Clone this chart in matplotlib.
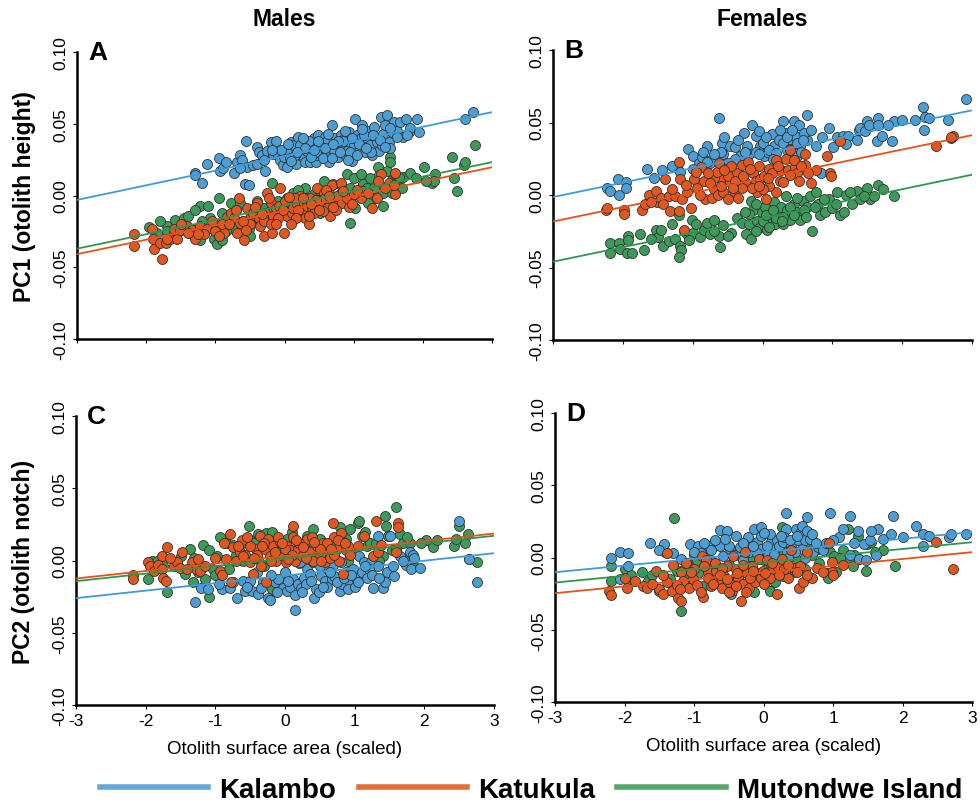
import matplotlib
matplotlib.use("Agg")
import matplotlib.pyplot as plt
from matplotlib.lines import Line2D

plt.rcParams['font.family'] = ['Liberation Sans', 'DejaVu Sans']

groups = ['Kalambo', 'Katukula', 'Mutondwe Island']
point_colors = ['#4c9fd5', '#e2561f', '#3d9a5a']
line_colors = ['#3f9bd8', '#e4521b', '#2f9650']
legend_colors = ['#64a9d6', '#e36f37', '#55a66c']

# ---- panel A : males, PC1 ----
a_kal_x = [-1.29, -1.30, -1.19, -1.12, -0.95, -0.93, -0.89, -0.73, -0.68, -0.64, -0.61, -0.56, -0.57, -0.52, -0.54,
           -0.45, -0.40, -0.40, -0.37, -0.33, -0.28, -0.25, -0.20, -0.16, -0.13, -0.10, -0.06, -0.02, -0.01, 0.03,
           0.06, 0.08, 0.09, 0.13, 0.16, 0.20, 0.23, 0.25, 0.29, 0.33, 0.37, 0.40, 0.42, 0.45, 0.47, 0.49, 0.52,
           0.54, 0.57, 0.59, 0.61, 0.64, 0.66, 0.69, 0.71, 0.73, 0.76, 0.78, 0.81, 0.83, 0.86, 0.88, 0.90, 0.93,
           0.95, 0.98, 1.00, 1.02, 1.05, 1.07, 1.10, 1.12, 1.14, 1.17, 1.19, 1.22, 1.24, 1.27, 1.29, 1.34, 1.36,
           1.39, 1.41, 1.43, 1.46, 1.48, 1.51, 1.53, 1.55, 1.58, 1.63, 1.67, 1.72, 1.75, 1.80, 1.82, 1.92, 1.94,
           2.61, 2.73, 0.35, 0.45, 0.55, 0.62, 0.72, 0.85, 0.95, 1.05, 0.15, -0.05, 0.30, 0.50, 0.68, 0.78, 1.15,
           1.25, 1.77, 0.05, 0.18, 0.27, 0.38, 0.48, 0.58, 0.63, 0.70, 0.80, 0.87, 0.97, 1.08, 1.18, 1.28, 1.38,
           1.45, 1.52, 1.62, -0.30, -0.18, -0.65, -0.85, 0.10, 0.42, 0.92, 1.12]
a_kal_y = [0.016, 0.014, 0.009, 0.022, 0.026, 0.017, 0.019, 0.016, 0.023, 0.028, 0.025, 0.038, 0.008, 0.007, 0.020,
           0.021, 0.022, 0.034, 0.030, 0.028, 0.017, 0.031, 0.037, 0.029, 0.038, 0.028, 0.025, 0.021, 0.027, 0.020,
           0.031, 0.026, 0.037, 0.035, 0.022, 0.041, 0.035, 0.028, 0.023, 0.031, 0.023, 0.034, 0.040, 0.023, 0.028,
           0.042, 0.033, 0.037, 0.028, 0.041, 0.031, 0.023, 0.035, 0.049, 0.028, 0.040, 0.034, 0.027, 0.042, 0.035,
           0.029, 0.041, 0.031, 0.044, 0.037, 0.024, 0.035, 0.053, 0.042, 0.031, 0.040, 0.049, 0.035, 0.030, 0.040,
           0.045, 0.035, 0.028, 0.048, 0.037, 0.031, 0.055, 0.035, 0.043, 0.049, 0.056, 0.037, 0.033, 0.044, 0.051,
           0.045, 0.051, 0.041, 0.053, 0.044, 0.047, 0.053, 0.044, 0.053, 0.058, 0.038, 0.030, 0.026, 0.038, 0.032,
           0.038, 0.030, 0.028, 0.028, 0.032, 0.033, 0.036, 0.026, 0.038, 0.042, 0.030, 0.042, 0.036, 0.030, 0.040,
           0.027, 0.038, 0.033, 0.043, 0.036, 0.030, 0.045, 0.040, 0.036, 0.033, 0.042, 0.039, 0.034, 0.047, 0.041,
           0.025, 0.032, 0.019, 0.023, 0.024, 0.032, 0.025, 0.046]

a_kat_x = [-2.18, -2.17, -1.92, -1.90, -1.89, -1.77, -1.80, -1.72, -1.65, -1.60, -1.55, -1.51, -1.41, -1.34, -1.22,
           -1.12, -1.17, -0.93, -0.88, -0.83, -0.78, -0.73, -0.69, -0.66, -0.64, -0.59, -0.54, -0.49, -0.45, -0.40,
           -0.37, -0.35, -0.30, -0.28, -0.25, -0.20, -0.18, -0.16, -0.13, -0.08, -0.06, -0.04, -0.01, 0.01, 0.04,
           0.08, 0.11, 0.13, 0.18, 0.23, 0.25, 0.28, 0.30, 0.33, 0.35, 0.37, 0.40, 0.42, 0.47, 0.49, 0.52, 0.57,
           0.59, 0.61, 0.66, 0.69, 0.71, 0.73, 0.76, 0.81, 0.83, 0.93, 1.10, 1.14, 1.27, 1.39, 1.34, 1.51, 1.60,
           1.60, 1.58, -0.50, -0.30, -0.10, 0.00, 0.20, 0.45, 0.60, 0.75, 0.90, 1.00, -0.20, 0.15, 0.35, 0.55,
           -0.60, -0.90, -1.00, -1.30, -1.40, -1.70, 1.20, 1.45, -1.05, -0.95, -0.80, -0.70, -0.55, -0.42, -0.33,
           -0.22, -0.12, -0.02, 0.06, 0.16, 0.27, 0.38, 0.50, 0.65, 0.70, 0.85, 0.97, 1.05, -1.50, -1.25, 1.35, 0.10]
a_kat_y = [-0.027, -0.035, -0.023, -0.030, -0.037, -0.044, -0.033, -0.033, -0.030, -0.023, -0.030, -0.024, -0.021,
           -0.024, -0.021, -0.023, -0.027, -0.019, -0.026, -0.015, -0.012, -0.016, -0.026, -0.002, -0.019, -0.031,
           -0.009, -0.014, -0.012, -0.005, -0.016, -0.021, -0.028, -0.012, 0.002, -0.005, -0.026, -0.014, -0.009,
           -0.007, 0.005, -0.012, -0.026, -0.008, -0.014, -0.005, -0.012, -0.009, -0.006, 0.000, -0.012, -0.005,
           -0.016, -0.007, -0.020, -0.002, -0.009, -0.012, 0.005, -0.005, -0.007, 0.002, -0.002, -0.009, -0.014,
           0.007, -0.002, -0.007, 0.000, 0.009, -0.005, -0.008, -0.002, 0.003, -0.009, 0.015, -0.002, 0.009, 0.016,
           0.001, 0.007, -0.020, -0.018, -0.016, -0.004, -0.010, -0.003, 0.004, -0.010, -0.002, 0.001, -0.020,
           -0.002, -0.014, -0.011, -0.018, -0.020, -0.025, -0.030, -0.026, -0.030, 0.002, 0.005, -0.018, -0.028,
           -0.020, -0.010, -0.024, -0.008, -0.013, -0.002, -0.020, -0.010, -0.001, -0.016, -0.002, -0.006, -0.010,
           0.000, -0.008, 0.003, -0.006, 0.004, -0.020, -0.027, 0.010, -0.020]

a_mut_x = [-1.96, -1.84, -1.70, -1.58, -1.46, -1.39, -1.36, -1.27, -1.22, -1.22, -1.10, -1.07, -1.02, -0.98, -0.95,
           -0.90, -0.78, -0.73, -0.64, -0.52, -0.49, -0.40, -0.30, -0.18, -0.06, 0.04, 0.13, 0.23, 0.33, 0.42, 0.52,
           0.57, 0.64, 0.71, 0.81, 0.90, 0.95, 1.00, 1.02, 1.05, 1.14, 1.19, 1.24, 1.29, 1.36, 1.43, 1.43, 1.48,
           1.53, 1.53, 1.55, 1.63, 1.70, 1.72, 1.82, 2.01, 2.13, 2.18, 2.16, 2.42, 2.45, 2.49, 2.59, 2.61, 2.76,
           -0.60, -0.20, 0.10, 0.30, 0.60, 0.80, -0.90, -1.20, -0.40, 0.00, 1.30, 1.60, 0.50, -1.50, -1.70, -1.00,
           -1.80, -1.60, -1.30, -1.15, -0.85, -0.70, -0.50, -0.35, -0.10, 0.20, 0.45, 0.70, 0.95, 1.10, 1.20, 1.35,
           1.55, 1.65, 1.90, 2.05]
a_mut_y = [-0.022, -0.026, -0.021, -0.017, -0.016, -0.014, -0.026, -0.023, -0.031, -0.007, -0.007, -0.016, -0.030,
           -0.034, -0.002, -0.031, -0.005, -0.023, -0.005, -0.023, -0.012, -0.016, -0.009, 0.009, -0.007, -0.002,
           0.002, -0.008, -0.002, 0.001, -0.012, 0.010, 0.002, -0.002, 0.007, 0.015, -0.019, 0.012, -0.009, 0.001,
           0.008, 0.005, 0.012, -0.002, 0.014, -0.007, 0.002, 0.017, 0.027, 0.023, 0.011, 0.007, 0.005, 0.013, 0.016,
           0.020, 0.009, 0.015, 0.010, 0.027, 0.012, 0.003, 0.021, 0.023, 0.035, -0.018, -0.010, -0.012, 0.005,
           -0.006, 0.001, -0.012, -0.018, -0.004, -0.013, 0.005, 0.015, 0.004, -0.024, -0.025, -0.022, -0.018,
           -0.027, -0.010, -0.025, -0.025, -0.010, -0.028, -0.020, -0.004, 0.004, -0.006, 0.008, 0.005, 0.015,
           -0.005, 0.020, 0.002, 0.013, 0.012, 0.010]

# ---- panel B : females, PC1 ----
b_kal_x = [-2.22, -2.19, -2.07, -2.06, -1.95, -1.95, -1.65, -1.44, -1.22, -1.18, -1.07, -0.99, -0.91, -0.87, -0.80,
           -0.75, -0.72, -0.63, -0.58, -0.56, -0.46, -0.39, -0.32, -0.27, -0.22, -0.15, -0.10, -0.05, -0.03, 0.02,
           0.06, 0.14, 0.16, 0.23, 0.30, 0.33, 0.35, 0.40, 0.45, 0.47, 0.49, 0.52, 0.54, 0.64, 0.64, 0.76, 0.85,
           0.84, 0.95, 1.01, 1.07, 1.15, 1.23, 1.35, 1.38, 1.40, 1.47, 1.49, 1.52, 1.64, 1.65, 1.66, 1.71, 1.85,
           1.88, 2.19, 2.30, 2.31, 2.33, 2.38, 2.65, 2.70, 2.92, -0.60, -0.40, -0.20, 0.00, 0.10, 0.20, 0.30, 0.40,
           0.50, 0.60, -0.10, 0.25, 0.45, -0.80, -0.50, 0.55, -1.00, -0.85, -0.70, -0.55, -0.35, -0.25, -0.05, 0.05,
           0.15, 0.35, 0.42, 0.58, 0.70, 1.20, 1.80, 2.00, -1.55, -1.30]
b_kal_y = [0.005, 0.003, 0.011, 0.000, 0.009, 0.005, 0.018, 0.017, 0.020, 0.016, 0.032, 0.027, 0.022, 0.026, 0.034,
           0.022, 0.025, 0.053, 0.036, 0.028, 0.034, 0.033, 0.027, 0.043, 0.034, 0.048, 0.041, 0.044, 0.034, 0.027,
           0.030, 0.042, 0.034, 0.038, 0.051, 0.043, 0.031, 0.038, 0.051, 0.041, 0.027, 0.048, 0.034, 0.055, 0.038,
           0.034, 0.040, 0.015, 0.046, 0.033, 0.040, 0.041, 0.041, 0.038, 0.045, 0.046, 0.044, 0.051, 0.048, 0.037,
           0.053, 0.048, 0.041, 0.037, 0.051, 0.052, 0.061, 0.045, 0.054, 0.053, 0.052, 0.039, 0.066, 0.030, 0.025,
           0.028, 0.036, 0.031, 0.029, 0.036, 0.032, 0.036, 0.043, 0.030, 0.045, 0.024, 0.023, 0.022, 0.030, 0.018,
           0.030, 0.028, 0.040, 0.038, 0.030, 0.028, 0.040, 0.025, 0.040, 0.045, 0.038, 0.045, 0.035, 0.048, 0.052,
           0.012, 0.020]

b_kat_x = [-2.24, -2.22, -1.99, -1.98, -1.73, -1.68, -1.62, -1.53, -1.51, -1.46, -1.42, -1.39, -1.34, -1.32, -1.25,
           -1.19, -1.19, -1.18, -1.15, -1.12, -1.08, -1.02, -0.98, -0.94, -0.88, -0.84, -0.82, -0.72, -0.69, -0.64,
           -0.58, -0.56, -0.53, -0.50, -0.46, -0.41, -0.37, -0.32, -0.29, -0.25, -0.21, -0.13, -0.10, -0.08, -0.03,
           0.02, 0.05, 0.09, 0.14, 0.20, 0.19, 0.26, 0.33, 0.37, 0.40, 0.47, 0.50, 0.52, 0.61, 0.61, 0.70, 0.77,
           0.93, 0.96, 0.98, 1.11, 2.48, 2.73, 2.70, -0.70, -0.60, -0.50, -0.40, -0.30, -0.15, -0.05, 0.10, 0.25,
           -0.45, -0.35, -0.75, 0.00, 0.40, -0.65, -1.60, -1.30, -1.10, -0.90, -0.78, -0.62, -0.55, -0.42, -0.28,
           -0.18, -0.05, 0.08, 0.22, 0.30, 0.45, 0.55, 0.65, -0.95]
b_kat_y = [-0.010, -0.009, -0.010, -0.013, -0.010, -0.006, 0.000, 0.003, -0.005, -0.002, -0.006, 0.011, -0.001,
           -0.011, -0.001, 0.023, -0.011, 0.011, -0.003, -0.024, 0.002, -0.009, 0.011, 0.005, 0.019, 0.010, -0.003,
           -0.002, 0.004, 0.000, 0.011, 0.002, 0.018, -0.003, 0.009, 0.003, 0.015, 0.009, 0.021, 0.009, 0.023, 0.015,
           0.010, 0.002, 0.011, 0.013, -0.003, 0.018, 0.015, 0.024, 0.002, 0.017, 0.025, 0.017, 0.031, 0.019, 0.015,
           0.010, 0.028, 0.021, 0.008, 0.017, 0.027, 0.015, 0.013, 0.037, 0.034, 0.041, 0.040, 0.012, 0.006, 0.013,
           0.010, 0.005, 0.005, 0.020, 0.006, 0.010, 0.020, -0.002, 0.008, 0.004, 0.014, 0.016, -0.005, 0.004, 0.007,
           0.000, 0.015, 0.022, 0.017, 0.005, 0.013, 0.018, 0.006, 0.012, 0.020, 0.009, 0.024, 0.020, 0.015, 0.016]

b_mut_x = [-2.19, -2.18, -2.06, -2.04, -1.94, -1.93, -1.92, -1.87, -1.75, -1.70, -1.52, -1.50, -1.42, -1.34, -1.30,
           -1.25, -1.20, -1.18, -1.17, -1.19, -1.13, -1.08, -1.01, -0.99, -0.90, -0.84, -0.80, -0.75, -0.69, -0.63,
           -0.61, -0.56, -0.45, -0.37, -0.29, -0.23, -0.20, -0.16, -0.16, -0.13, -0.08, -0.05, -0.01, 0.04, 0.06,
           0.11, 0.16, 0.18, 0.23, 0.26, 0.30, 0.33, 0.35, 0.40, 0.45, 0.49, 0.54, 0.58, 0.64, 0.68, 0.71, 0.76,
           0.83, 0.90, 0.95, 1.00, 1.07, 1.11, 1.16, 1.19, 1.28, 1.35, 1.40, 1.49, 1.54, 1.59, 1.65, 1.73, 1.89,
           0.00, 0.20, 0.40, 0.60, -0.10, 0.30, 0.50, 0.10, -0.20, 0.80, -1.60, -1.45, -1.05, -0.95, -0.70, -0.50,
           -0.25, -0.10, 0.05, 0.15, 0.28, 0.45, 0.62, 0.75, 0.88, 1.05, 1.25, 1.45]
b_mut_y = [-0.033, -0.040, -0.033, -0.037, -0.040, -0.028, -0.031, -0.040, -0.027, -0.038, -0.024, -0.029, -0.035,
           -0.032, -0.020, -0.030, -0.014, -0.035, -0.038, -0.043, -0.025, -0.027, -0.017, -0.026, -0.029, -0.024,
           -0.019, -0.027, -0.017, -0.028, -0.036, -0.021, -0.026, -0.016, -0.019, -0.027, -0.020, -0.030, -0.004,
           -0.010, -0.018, -0.023, -0.012, -0.008, -0.024, -0.016, -0.005, -0.020, -0.013, -0.008, -0.020, -0.001,
           -0.010, -0.017, -0.006, -0.012, -0.017, -0.004, -0.008, -0.001, -0.025, 0.002, -0.014, -0.012, -0.003,
           -0.009, 0.002, -0.014, -0.012, 0.000, -0.006, 0.003, -0.003, 0.005, -0.003, -0.001, 0.007, 0.004, -0.001,
           -0.018, -0.016, -0.008, -0.010, -0.006, -0.015, -0.002, -0.022, -0.013, -0.006, -0.030, -0.024, -0.031,
           -0.020, -0.025, -0.028, -0.012, -0.025, -0.014, -0.010, -0.018, -0.014, -0.015, -0.008, -0.003, -0.006,
           0.002, -0.001]

# ---- panel C : males, PC2 ----
c_kal_x = [-1.29, -1.20, -1.10, -0.91, -0.79, -0.69, -0.61, -0.58, -0.48, -0.39, -0.31, -0.24, -0.22, -0.15, -0.10,
           -0.03, 0.03, 0.07, 0.11, 0.14, 0.19, 0.23, 0.27, 0.31, 0.36, 0.41, 0.45, 0.49, 0.52, 0.57, 0.62, 0.67,
           0.71, 0.79, 0.82, 0.88, 0.93, 0.97, 1.02, 1.06, 1.10, 1.13, 1.17, 1.23, 1.27, 1.33, 1.34, 1.40, 1.43,
           1.46, 1.50, 1.57, 1.65, 1.73, 1.79, 1.81, 1.84, 1.94, 2.50, 2.64, 2.75, 0.21, 0.40, 0.69, -0.50, -0.20,
           0.00, 0.30, 0.60, 0.90, 1.20, 0.50, 0.80, 1.00, -0.40, 0.15, -0.75, -0.55, -0.35, -0.12, 0.05, 0.25,
           0.38, 0.55, 0.65, 0.75, 0.85, 0.95, 1.05, 1.15, 1.25, 1.35, 1.55, 1.70, 1.85, -0.95]
c_kal_y = [-0.029, -0.019, -0.020, -0.020, -0.019, -0.026, -0.014, -0.021, -0.021, -0.023, -0.015, -0.026, -0.027,
           -0.015, -0.013, -0.019, -0.021, -0.018, -0.013, -0.034, -0.016, -0.019, -0.012, -0.006, -0.009, -0.026,
           -0.020, -0.022, -0.011, -0.014, -0.006, -0.013, -0.011, -0.021, -0.016, -0.008, -0.015, -0.006, -0.012,
           0.003, -0.008, -0.001, -0.012, -0.001, -0.019, 0.017, -0.004, -0.019, -0.015, -0.008, 0.017, -0.011, 0.003,
           -0.003, 0.006, -0.006, 0.004, -0.005, 0.027, 0.001, -0.015, -0.001, -0.001, -0.003, -0.014, -0.010,
           -0.008, -0.016, -0.018, -0.020, -0.006, -0.004, -0.001, -0.018, -0.008, -0.024, -0.015, -0.018, -0.019,
           -0.022, -0.014, -0.022, -0.014, -0.018, -0.008, -0.015, -0.012, -0.010, -0.015, -0.004, -0.010, -0.012,
           -0.004, 0.000, 0.002, -0.016]

c_kat_x = [-2.18, -2.18, -1.96, -1.94, -1.88, -1.83, -1.77, -1.77, -1.75, -1.70, -1.71, -1.60, -1.55, -1.51, -1.48,
           -1.34, -1.28, -1.25, -1.22, -0.94, -0.88, -0.84, -0.79, -0.78, -0.74, -0.70, -0.65, -0.62, -0.58, -0.50,
           -0.46, -0.42, -0.39, -0.36, -0.34, -0.29, -0.27, -0.24, -0.21, -0.17, -0.13, -0.10, -0.07, -0.03, 0.01,
           0.03, 0.07, 0.11, 0.12, 0.14, 0.19, 0.24, 0.28, 0.32, 0.36, 0.39, 0.43, 0.46, 0.50, 0.54, 0.57, 0.62,
           0.64, 0.69, 0.71, 0.74, 0.78, 0.81, 0.83, 0.88, 0.93, 1.13, 1.26, 1.30, 1.33, 1.38, 1.59, 1.62, 1.62,
           -0.40, -0.20, 0.00, 0.20, 0.40, 0.60, -0.50, -0.30, -0.10, 0.10, 0.30, 0.50, -0.60, 0.70, 0.90, -1.65,
           -1.40, -1.15, -1.00, -0.90, -0.68, -0.55, -0.45, -0.33, -0.15, -0.05, 0.05, 0.16, 0.26, 0.42, 0.52, 0.66,
           0.76, 0.86, 1.05]
c_kat_y = [-0.010, -0.013, -0.001, -0.004, -0.007, -0.003, 0.003, -0.006, -0.012, 0.009, -0.014, -0.004, -0.001,
           -0.005, 0.006, -0.001, -0.006, 0.001, -0.007, -0.007, 0.012, 0.001, 0.018, -0.015, 0.009, 0.000, 0.006,
           0.014, 0.004, -0.001, -0.009, 0.008, 0.001, 0.017, -0.004, 0.008, -0.015, 0.015, 0.003, 0.010, 0.000,
           0.006, 0.013, 0.003, -0.001, 0.010, 0.007, 0.024, 0.016, 0.000, 0.008, 0.003, 0.012, 0.015, 0.006, 0.016,
           0.002, 0.010, 0.004, 0.012, -0.001, 0.007, 0.002, 0.026, 0.016, 0.008, 0.000, 0.019, -0.009, 0.007, 0.004,
           0.017, 0.003, 0.027, 0.006, 0.011, 0.006, 0.026, 0.023, 0.004, 0.000, 0.008, 0.012, 0.000, 0.012, 0.010,
           0.012, 0.016, 0.004, 0.002, 0.008, 0.003, 0.004, 0.010, 0.002, -0.006, -0.004, 0.002, -0.010, 0.010,
           0.016, 0.002, 0.010, 0.006, 0.012, 0.001, 0.014, 0.009, 0.013, 0.000, 0.008, 0.014, 0.012, 0.010]

c_mut_x = [-1.96, -1.91, -1.84, -1.70, -1.58, -1.44, -1.37, -1.32, -1.22, -1.18, -1.15, -1.09, -1.09, -1.03, -0.98,
           -0.93, -0.84, -0.74, -0.66, -0.51, -0.50, -0.45, -0.39, -0.31, -0.27, -0.19, -0.18, -0.12, 0.03, 0.19,
           0.31, 0.45, 0.62, 0.79, 0.88, 0.93, 1.05, 1.06, 1.10, 1.17, 1.22, 1.41, 1.43, 1.45, 1.48, 1.53, 1.60,
           1.65, 1.69, 1.72, 1.79, 1.84, 2.02, 2.12, 2.18, 2.43, 2.46, 2.50, 2.59, 2.63, 2.64, 2.76, -0.60, -0.30,
           0.00, 0.20, 0.50, 0.70, 1.00, 1.30, -0.80, -1.30, 0.40, 0.90, -1.75, -1.50, -1.25, -1.00, -0.70, -0.55,
           -0.20, 0.10, 0.35, 0.55, 0.80, 1.15, 1.35, 1.60, 1.75, 1.95]
c_mut_y = [-0.013, 0.000, 0.000, -0.022, -0.004, -0.009, 0.008, -0.015, -0.003, 0.011, -0.013, 0.007, -0.025, -0.006,
           0.003, 0.016, 0.012, 0.011, 0.007, 0.024, 0.014, 0.012, 0.018, 0.016, 0.019, 0.020, -0.020, 0.010, 0.015,
           0.012, 0.017, 0.009, 0.007, 0.023, 0.015, 0.022, 0.026, 0.027, 0.017, 0.010, 0.012, 0.003, 0.031, 0.024,
           0.017, 0.007, 0.037, 0.018, 0.012, 0.001, 0.012, -0.003, 0.014, 0.009, 0.014, 0.010, 0.015, 0.024, 0.012,
           0.018, 0.001, -0.001, 0.000, -0.004, 0.004, -0.002, 0.015, 0.010, 0.005, 0.012, -0.006, 0.002, 0.022, 0.000,
           -0.004, 0.003, -0.008, -0.010, 0.004, 0.012, 0.010, 0.020, 0.008, 0.003, 0.015, 0.020, 0.000, 0.008, 0.016,
           0.012]

# ---- panel D : females, PC2 ----
d_kal_x = [-2.20, -2.06, -1.95, -1.95, -2.06, -1.63, -1.43, -1.18, -1.06, -0.94, -0.86, -0.80, -0.72, -0.63, -0.52,
           -0.63, -0.58, -0.48, -0.47, -0.41, -0.34, -0.29, -0.22, -0.21, -0.13, -0.10, -0.04, -0.04, -0.03, 0.02,
           0.07, 0.11, 0.16, 0.19, 0.23, 0.28, 0.32, 0.33, 0.34, 0.40, 0.47, 0.50, 0.52, 0.55, 0.59, 0.63, 0.67,
           0.71, 0.79, 0.86, 0.95, 1.09, 1.15, 1.24, 1.24, 1.36, 1.38, 1.44, 1.48, 1.53, 1.62, 1.65, 1.72, 1.84,
           1.87, 2.19, 2.29, 2.30, 2.38, 2.67, 2.70, 2.92, -0.90, -0.70, -0.50, -0.30, -0.10, 0.10, 0.30, 0.45,
           0.60, -0.20, 0.20, 0.55, 0.00, -0.60, 0.35, 0.75, -1.50, -1.30, -1.00, -0.75, -0.55, -0.40, -0.15, 0.05,
           0.15, 0.25, 0.38, 0.48, 0.62, 0.70, 0.90, 1.00, 1.30, 1.55, 2.00, -0.85]
d_kal_y = [0.000, 0.004, 0.003, -0.006, -0.015, 0.010, 0.009, -0.001, 0.009, 0.008, 0.002, 0.008, -0.003, 0.019,
           0.018, 0.008, 0.001, 0.006, -0.025, 0.002, 0.007, -0.002, 0.014, 0.004, 0.020, 0.011, 0.021, 0.015, 0.006,
           0.001, 0.002, 0.011, 0.006, 0.012, 0.008, 0.011, 0.031, 0.020, 0.004, 0.008, 0.020, 0.012, 0.017, 0.006,
           0.012, 0.028, 0.013, 0.004, 0.007, 0.005, 0.031, 0.014, 0.020, 0.029, 0.002, 0.018, -0.001, 0.009, -0.002,
           0.012, 0.002, 0.020, 0.013, 0.016, 0.029, 0.022, 0.016, 0.008, 0.015, 0.014, 0.016, 0.016, 0.003, 0.012,
           0.008, 0.010, 0.003, 0.016, 0.014, 0.004, 0.000, -0.006, -0.004, 0.022, 0.017, -0.008, 0.000, 0.010,
           0.005, 0.003, 0.004, 0.005, 0.013, 0.015, 0.008, 0.008, 0.002, 0.015, 0.012, 0.015, 0.018, 0.016, 0.010,
           0.012, 0.010, 0.018, 0.014, 0.010]

d_kat_x = [-2.23, -2.20, -1.99, -1.97, -1.73, -1.67, -1.54, -1.51, -1.44, -1.39, -1.39, -1.32, -1.30, -1.23, -1.18,
           -1.18, -1.16, -1.11, -1.07, -1.01, -0.96, -0.89, -0.87, -0.83, -0.80, -0.75, -0.69, -0.65, -0.60, -0.57,
           -0.53, -0.49, -0.46, -0.44, -0.40, -0.36, -0.33, -0.29, -0.27, -0.24, -0.21, -0.17, -0.12, -0.10, -0.06,
           -0.03, -0.01, 0.05, 0.13, 0.19, 0.20, 0.26, 0.35, 0.40, 0.44, 0.51, 0.53, 0.57, 0.62, 0.70, 0.77, 0.94,
           0.98, 0.98, 1.00, 1.14, 2.48, 2.73, -0.70, -0.50, -0.40, -0.60, -0.30, -0.20, -0.80, 0.10, 0.30, -1.00,
           0.00, -0.90, -1.85, -1.60, -1.45, -1.25, -1.05, -0.85, -0.72, -0.62, -0.52, -0.38, -0.25, -0.15, 0.02,
           0.12, 0.22, 0.35, 0.48, 0.62, 0.85, -1.20]
d_kat_y = [-0.023, -0.026, -0.014, -0.021, -0.020, -0.021, -0.009, -0.022, -0.025, 0.003, -0.017, -0.023, -0.005,
           -0.028, -0.010, -0.030, -0.016, -0.004, -0.021, -0.015, -0.019, 0.001, -0.027, -0.002, -0.010, -0.020,
           -0.009, -0.016, -0.021, -0.013, -0.006, -0.017, -0.023, 0.001, -0.008, -0.014, -0.030, -0.018, 0.004,
           -0.011, -0.021, -0.006, -0.017, -0.011, -0.001, -0.014, -0.009, -0.002, -0.008, -0.025, -0.006, -0.001,
           -0.014, 0.005, -0.007, -0.021, -0.006, -0.017, 0.004, -0.014, -0.007, 0.010, -0.003, -0.010, -0.012,
           -0.005, 0.011, -0.008, -0.004, -0.024, -0.020, -0.007, -0.005, -0.014, -0.014, -0.014, -0.008, -0.008,
           -0.018, -0.024, -0.016, -0.018, -0.012, -0.019, -0.010, -0.006, -0.018, -0.012, -0.015, -0.011, -0.024,
           -0.009, -0.011, -0.004, -0.012, -0.005, -0.010, -0.012, -0.010, -0.022]

d_mut_x = [-2.20, -2.20, -1.99, -1.87, -1.75, -1.66, -1.51, -1.42, -1.29, -1.25, -1.18, -1.07, -1.00, -0.94, -0.87,
           -0.75, -0.68, -0.58, -0.39, -0.24, -0.14, -0.01, 0.09, 0.16, 0.27, 0.28, 0.38, 0.50, 0.59, 0.72, 0.79,
           0.91, 0.93, 0.95, 1.02, 1.05, 1.14, 1.18, 1.22, 1.29, 1.36, 1.38, 1.48, 1.49, 1.55, 1.72, 1.89, -0.80,
           -0.50, -0.30, -0.10, 0.10, 0.20, 0.40, 0.60, -1.10, -0.60, 0.00, 0.80, -1.90, -1.60, -1.35, -1.15, -0.95,
           -0.75, -0.45, -0.20, 0.05, 0.30, 0.45, 0.70, 0.85, 1.10, 1.30, 1.60]
d_mut_y = [-0.006, -0.016, -0.008, -0.016, -0.010, -0.016, -0.023, 0.004, 0.027, -0.009, -0.037, -0.014, 0.002,
           -0.011, -0.020, 0.008, 0.009, -0.014, -0.013, -0.009, -0.024, -0.013, -0.023, -0.017, 0.021, -0.013,
           -0.009, -0.002, -0.008, 0.009, 0.006, -0.011, -0.014, 0.004, 0.001, -0.010, 0.005, -0.001, 0.020, -0.006,
           0.015, -0.001, -0.009, 0.009, 0.011, 0.005, -0.006, 0.000, -0.005, 0.003, 0.006, -0.004, 0.010, 0.003,
           0.010, -0.004, 0.010, -0.002, -0.004, -0.012, -0.012, -0.015, -0.008, -0.002, -0.012, 0.002, 0.000, 0.005,
           0.004, -0.010, 0.002, 0.006, 0.000, 0.002, 0.004]

# fitted lines, order: Kalambo, Katukula, Mutondwe Island
a_int = [0.0275, -0.0106, -0.0069]
a_slope = [0.0102, 0.0101, 0.01005]
b_int = [0.0285, 0.0115, -0.0160]
b_slope = [0.00997, 0.00992, 0.0100]
c_int = [-0.0105, 0.0031, 0.0014]
c_slope = [0.00518, 0.00518, 0.00523]
d_int = [0.0037, -0.0105, -0.0034]
d_slope = [0.00463, 0.00473, 0.00465]

xticks = [-3, -2, -1, 0, 1, 2, 3]
yticks = [-0.10, -0.05, 0.00, 0.05, 0.10]

W, H = 980, 804
fig = plt.figure(figsize=(W / 100, H / 100), dpi=100)


def px_axes(left, right, top, bottom):
    return fig.add_axes([left / W, 1 - bottom / H, (right - left) / W, (bottom - top) / H])


panels = [
    (px_axes(77, 492, 53, 340), 'A', [a_kal_x, a_kat_x, a_mut_x], [a_kal_y, a_kat_y, a_mut_y], a_int, a_slope),
    (px_axes(553, 972, 51, 341), 'B', [b_kal_x, b_kat_x, b_mut_x], [b_kal_y, b_kat_y, b_mut_y], b_int, b_slope),
    (px_axes(76, 494, 417, 706), 'C', [c_kal_x, c_kat_x, c_mut_x], [c_kal_y, c_kat_y, c_mut_y], c_int, c_slope),
    (px_axes(555, 972, 414, 703), 'D', [d_kal_x, d_kat_x, d_mut_x], [d_kal_y, d_kat_y, d_mut_y], d_int, d_slope),
]

draw_order = [2, 0, 1]  # Mutondwe below, then Kalambo, Katukula on top

for i, (ax, letter, xs, ys, ints, slopes) in enumerate(panels):
    for g in draw_order:
        ax.scatter(xs[g], ys[g], s=52, c=point_colors[g], edgecolors='#333333', linewidths=0.6, zorder=2)
    for g in range(3):
        ax.axline((0, ints[g]), slope=slopes[g], color=line_colors[g], lw=1.3, zorder=3)
    ax.set_xlim(-3, 3)
    ax.set_ylim(-0.10, 0.10)
    ax.set_xticks(xticks)
    ax.set_yticks(yticks)
    ax.set_yticklabels(['%.2f' % v for v in yticks], rotation=90, va='center')
    ax.spines['top'].set_visible(False)
    ax.spines['right'].set_visible(False)
    ax.spines['left'].set_linewidth(1.8)
    ax.spines['bottom'].set_linewidth(1.8)
    ax.tick_params(direction='out', length=3, width=0.8, labelsize=12.5, pad=3)
    if i < 2:
        ax.set_xticklabels([])
    else:
        ax.set_xticklabels([str(v) for v in xticks], fontsize=12.5)
        ax.set_xlabel('Otolith surface area (scaled)', fontsize=13.5)
        ax.xaxis.set_label_coords(0.5, -0.12)
    ax.text(0.027, 0.975, letter, transform=ax.transAxes, fontsize=19, fontweight='bold', va='baseline')

panels[0][0].set_ylabel('PC1 (otolith height)', fontsize=16.5, fontweight='bold')
panels[2][0].set_ylabel('PC2 (otolith notch)', fontsize=16.5, fontweight='bold')
panels[0][0].yaxis.set_label_coords(-0.098, 0.5)
panels[2][0].yaxis.set_label_coords(-0.098, 0.5)

fig.text(284 / W, 1 - 20 / H, 'Males', fontsize=16.5, fontweight='bold', ha='center', va='center')
fig.text(762 / W, 1 - 20 / H, 'Females', fontsize=16.5, fontweight='bold', ha='center', va='center')

handles = [Line2D([0], [0], color=legend_colors[g], lw=4) for g in range(3)]
fig.legend(handles, groups, loc='center', bbox_to_anchor=(531 / W, 1 - 791 / H), ncol=3, frameon=False,
           prop={'size': 20, 'weight': 'bold'}, handlelength=3.9, handletextpad=0.4, columnspacing=0.8)

fig.savefig('out.png', dpi=100)
